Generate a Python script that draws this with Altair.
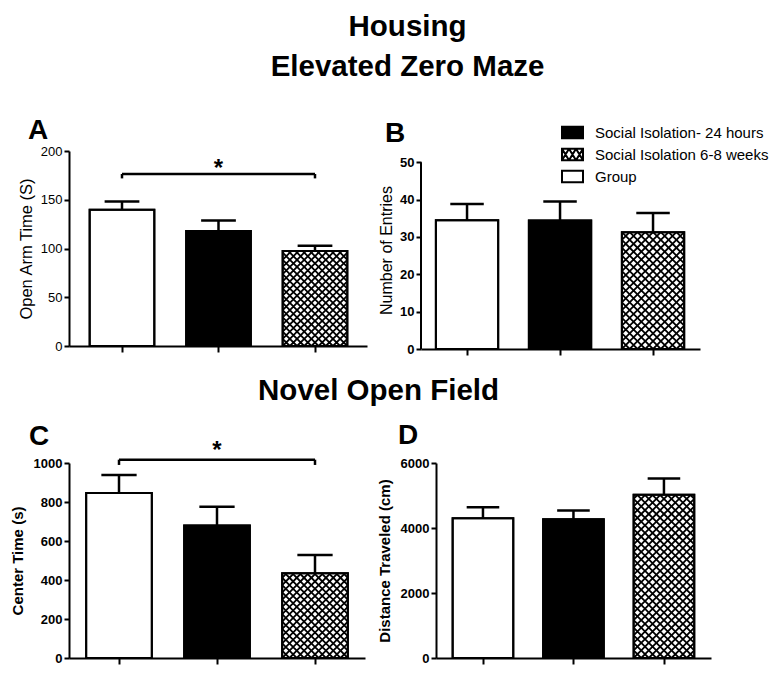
import math
import altair as alt
import pandas as pd

FONT = "Liberation Sans"

# ---------------- data ----------------
groups = ["Group", "Social Isolation- 24 hours", "Social Isolation 6-8 weeks"]
bar_fill = ["white", "black", "white"]
is_hatched = [False, False, True]
bar_pos = [1, 2, 3]

a_mean = [139.8, 117.9, 97.4]
a_err = [148.3, 128.8, 102.9]
b_mean = [34.5, 34.4, 31.3]
b_err = [38.8, 39.5, 36.4]
c_mean = [846, 680, 434]
c_err = [938, 776, 528]
d_mean = [4300, 4270, 5020]
d_err = [4640, 4535, 5525]

a_ticks = [0, 50, 100, 150, 200]
b_ticks = [0, 10, 20, 30, 40, 50]
c_ticks = [0, 200, 400, 600, 800, 1000]
d_ticks = [0, 2000, 4000, 6000]

legend_order = ["Social Isolation- 24 hours", "Social Isolation 6-8 weeks", "Group"]
legend_fill = ["black", "white", "white"]

# ---------------- style helpers ----------------
HALF = 0.335      # half bar width (x units)
CAP = 0.18        # half error cap width
PERIOD = 7.6      # crosshatch period in px
X_PATH = "M-1,-1L1,1M-1,1L1,-1"
H = 0.55
RECT_PATH = f"M-1,-{H}H1V{H}H-1Z"
xs = [-1, -1 / 3, 1 / 3, 1]
HATCH_PATH = RECT_PATH + "".join(
    f"M{xs[k]:.3f},-{H}L{xs[k+1]:.3f},{H}M{xs[k]:.3f},{H}L{xs[k+1]:.3f},-{H}" for k in range(3)
)
legend_shapes = [RECT_PATH, HATCH_PATH, RECT_PATH]


def partial_path(f):
    t = 1 - 2 * f
    return f"M{t:.3f},{t:.3f}L1,1M-1,1L{-t:.3f},{t:.3f}"


def make_panel(letter, means, errs, ticks, ytitle, ydom, width, height, lo, hi,
               letter_dx, letter_dy, letter_offset, label_bold, title_pad,
               title_size=15, title_weight="bold",
               bracket=None, star_dy=0, legend=False, manual_domain=None):
    xaxis = alt.Axis(values=bar_pos, labels=False, ticks=True, tickSize=6, tickWidth=2,
                     tickColor="black", domainColor="black", domainWidth=2, grid=False, title=None)
    yaxis = alt.Axis(values=ticks, format="d", title=ytitle, titleFont=FONT, titleFontSize=title_size,
                     titleFontWeight=title_weight, titleColor="black", titlePadding=title_pad,
                     labelFont=FONT, labelFontSize=13, labelColor="black",
                     labelFontWeight="bold" if label_bold else "normal", labelPadding=2,
                     tickSize=5, tickWidth=2, tickColor="black", domainColor="black",
                     domainWidth=2, grid=False, domain=manual_domain is None)
    xs_ = alt.Scale(domain=[lo, hi], nice=False, zero=False)
    ys_ = alt.Scale(domain=[0, ydom], nice=False, zero=True)

    def X(f):
        return alt.X(f, type="quantitative", scale=xs_, axis=xaxis, title=None)

    def Y(f):
        return alt.Y(f, type="quantitative", scale=ys_, axis=yaxis, title=ytitle)

    df = pd.DataFrame({
        "group": groups, "pos": bar_pos, "fill": bar_fill,
        "mean": means, "err": errs, "zero": [0, 0, 0],
    })
    df["left"] = df["pos"] - HALF
    df["right"] = df["pos"] + HALF
    df["capl"] = df["pos"] - CAP
    df["capr"] = df["pos"] + CAP
    df["half"] = df["mean"] / 2

    layers = []
    if legend:
        layers.append(
            alt.Chart(df).mark_point(filled=True, size=60, opacity=1, stroke="black", strokeWidth=2)
            .encode(
                x=X("pos"), y=Y("half"),
                fill=alt.Fill("group:N", scale=alt.Scale(domain=legend_order, range=legend_fill),
                              legend=LEGEND),
                shape=alt.Shape("group:N", scale=alt.Scale(domain=legend_order, range=legend_shapes),
                                legend=LEGEND),
            )
        )
    layers.append(
        alt.Chart(df).mark_rect(stroke="black", strokeWidth=2)
        .encode(x=X("left"), x2="right", y=Y("mean"), y2="zero", fill=alt.Fill("fill:N", scale=None))
    )
    # crosshatch grid for the hatched bar(s)
    kx = width / (hi - lo)
    ky = height / ydom
    rows = []
    for i, h in enumerate(is_hatched):
        if not h:
            continue
        left = bar_pos[i] - HALF
        bw = 2 * HALF * kx
        n = max(1, round(bw / PERIOD))
        p = bw / n
        hpx = means[i] * ky
        m = int(hpx // p)
        f = (hpx - m * p) / p
        nrows = m + (1 if f > 0.06 else 0)
        for r in range(nrows):
            shape = X_PATH if r < m else partial_path(f)
            for j in range(n):
                rows.append({"hx": left + (j + 0.5) * p / kx, "hy": (r + 0.5) * p / ky,
                             "shape": shape, "size": p * p})
    hdf = pd.DataFrame(rows)
    layers.append(
        alt.Chart(hdf).mark_point(filled=False, opacity=1, stroke="black", strokeWidth=1.8)
        .encode(x=X("hx"), y=Y("hy"), shape=alt.Shape("shape:N", scale=None),
                size=alt.Size("size:Q", scale=None))
    )
    layers.append(
        alt.Chart(df).mark_rect(stroke="black", strokeWidth=2, fillOpacity=0)
        .encode(x=X("left"), x2="right", y=Y("mean"), y2="zero")
    )
    layers.append(
        alt.Chart(df).mark_rule(stroke="black", strokeWidth=2.5)
        .encode(x=X("pos"), y=Y("mean"), y2="err")
    )
    layers.append(
        alt.Chart(df).mark_rule(stroke="black", strokeWidth=2.5)
        .encode(x=X("capl"), x2="capr", y=Y("err"))
    )
    if bracket is not None:
        btop, blow = bracket
        bdf = pd.DataFrame({"bx": [1, 3], "bx2": [3, 3], "by": [btop, btop], "blow": [blow, blow]})
        layers.append(
            alt.Chart(bdf.iloc[:1]).mark_rule(stroke="black", strokeWidth=2.5)
            .encode(x=X("bx"), x2="bx2", y=Y("by"))
        )
        layers.append(
            alt.Chart(bdf).mark_rule(stroke="black", strokeWidth=2.5)
            .encode(x=X("bx"), y=Y("by"), y2="blow")
        )
        sdf = pd.DataFrame({"sx": [2], "sy": [btop], "t": ["*"]})
        layers.append(
            alt.Chart(sdf).mark_text(font=FONT, fontSize=24, fontWeight="bold", color="black",
                                     baseline="alphabetic", dy=star_dy)
            .encode(x=X("sx"), y=Y("sy"), text="t:N")
        )
    if manual_domain is not None:
        mdf = pd.DataFrame({"mx": [lo], "my": [0], "my2": [manual_domain]})
        layers.append(
            alt.Chart(mdf).mark_rule(stroke="black", strokeWidth=2)
            .encode(x=X("mx"), y=Y("my"), y2="my2")
        )
    return alt.layer(*layers).properties(
        width=width, height=height,
        title=alt.TitleParams(letter, anchor="start", frame="group", dx=letter_dx, dy=letter_dy,
                              offset=letter_offset, font=FONT, fontSize=28, fontWeight="bold",
                              color="black"),
    )


LEGEND = alt.Legend(orient="none", legendX=492, legendY=-30, title=None, labelFont=FONT,
                    labelFontSize=15, labelColor="black", labelLimit=400, symbolSize=441,
                    symbolStrokeColor="black", symbolStrokeWidth=2, labelOffset=11,
                    rowPadding=0, padding=0, symbolOpacity=1)

# B plot is extended upward so its top lines up with A (flush layout); axis line drawn manually
B_H = 198
B_DOM = 50 * B_H / 186.7

pA = make_panel("A", a_mean, a_err, a_ticks, "Open Arm Time (S)", 200, 298, 195, 0.4508, 3.5389,
                -41, 4, 4, False, 6, title_size=16.5, title_weight="normal",
                bracket=(176.4, 171.9), star_dy=2)
pB = make_panel("B", b_mean, b_err, b_ticks, "Number of Entries", B_DOM, 279, B_H, 0.505, 3.505,
                -36, 3, 6, True, 5, title_size=16, title_weight="normal",
                legend=True, manual_domain=50)
pC = make_panel("C", c_mean, c_err, c_ticks, "Center Time (s)", 1000, 296, 195, 0.4898, 3.5102,
                -40, 16, 4, True, 8, bracket=(1017, 990), star_dy=-2)
pD = make_panel("D", d_mean, d_err, d_ticks, "Distance Traveled (cm)", 6000, 275, 195, 0.481, 3.520,
                -38, -3, 4, True, 8)

row1 = alt.hconcat(pA, pB, spacing=54, bounds="flush").resolve_legend(fill="shared", shape="shared")
row2 = alt.hconcat(pC, pD, spacing=71, bounds="flush").properties(
    title=alt.TitleParams("Novel Open Field", anchor="middle", frame="bounds", dx=18, offset=16,
                          font=FONT, fontSize=29.5, fontWeight="bold", color="black")
).resolve_legend(fill="shared", shape="shared")

chart = alt.vconcat(row1, row2, spacing=19).properties(
    title=alt.TitleParams(["Housing", "Elevated Zero Maze"], anchor="middle", frame="bounds",
                          dx=18, offset=35, lineHeight=40, font=FONT, fontSize=29.5,
                          fontWeight="bold", color="black"),
    padding={"left": 2, "top": 3, "right": 0, "bottom": 0},
).resolve_legend(fill="shared", shape="shared").configure_view(strokeWidth=0)

chart.save("out.html", embed_options={"renderer": "svg", "actions": False})
